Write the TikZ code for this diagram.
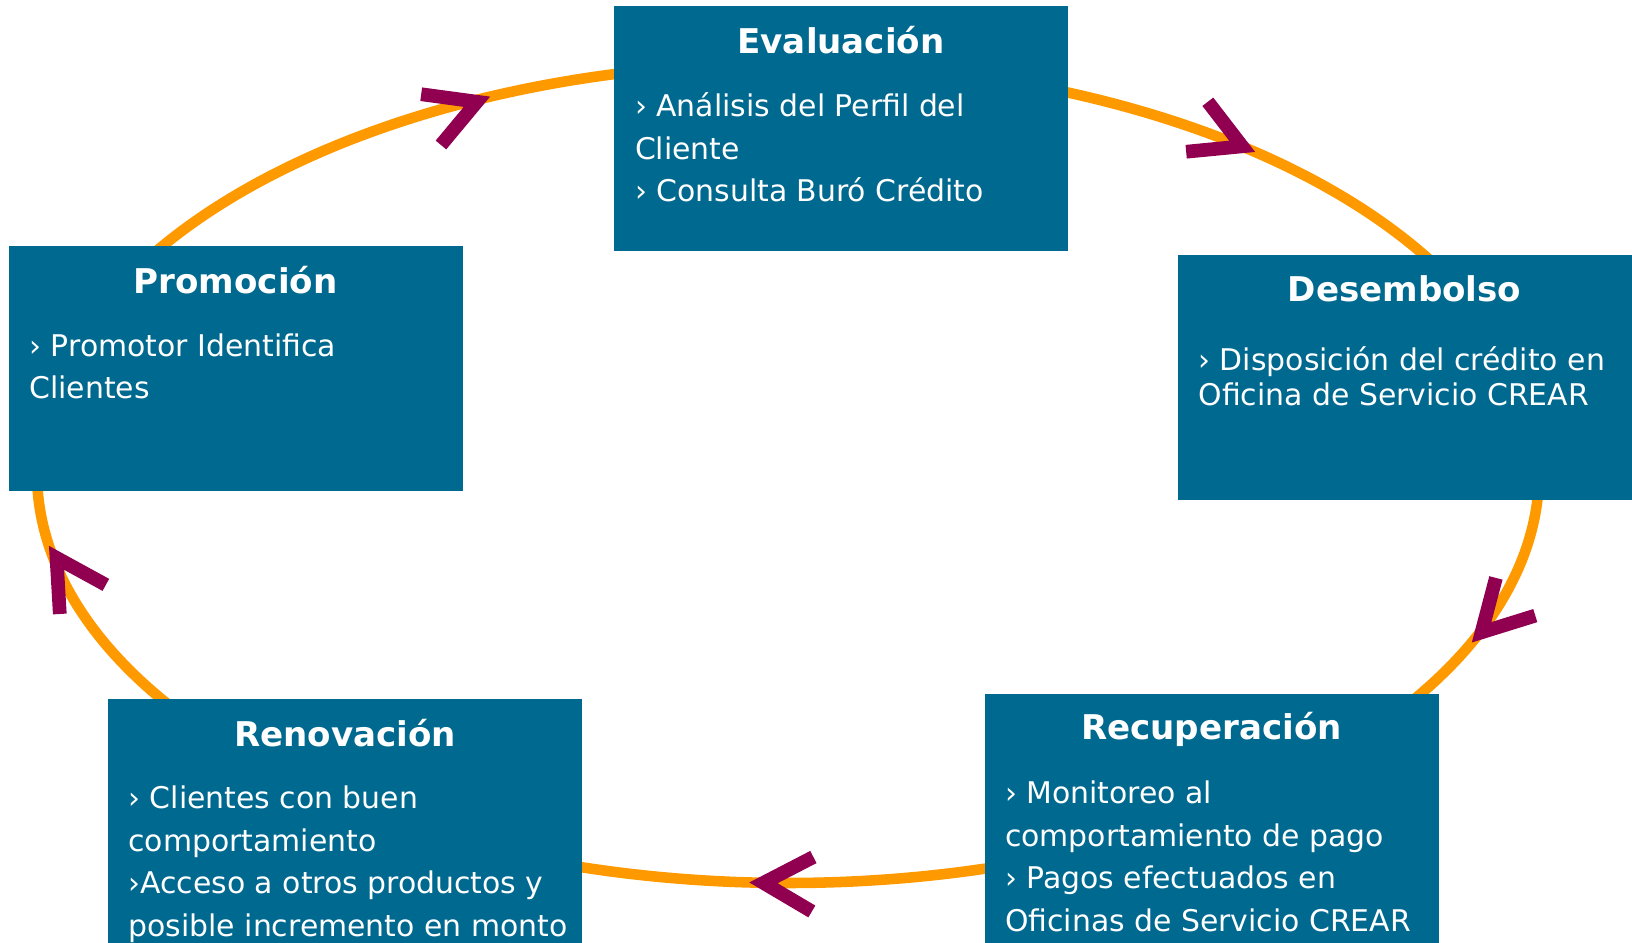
\documentclass[tikz,border=0pt]{standalone}
\usepackage{fontspec}
\setmainfont{DejaVu Sans}
\usetikzlibrary{arrows.meta,decorations.markings}
\definecolor{cajaazul}{RGB}{0,105,143}
\definecolor{naranja}{RGB}{255,153,0}
\definecolor{vino}{RGB}{145,0,80}

\begin{document}
\begin{tikzpicture}[
  caja/.style={fill=cajaazul, minimum width=9.08cm, minimum height=4.9cm, inner sep=0pt},
  titulo/.style={text=white, inner sep=0pt, font=\fontsize{19.4}{23}\selectfont\bfseries},
  texto/.style={text=white, align=left, anchor=north west, inner sep=0pt, execute at begin node=\strut, font=\fontsize{17}{24.2}\selectfont},
  anillo/.style={naranja, line width=6pt},
  flecha/.style 2 args={postaction={decorate}, decoration={markings, mark=at position #1 with {\pgftransformrotate{#2}\arrow{Straight Barb[length=28pt, width=31pt, line width=7.8pt, color=vino]}}}}
]
\useasboundingbox (0,0) rectangle (32.64,18.84);
\clip (0,0) rectangle (32.64,18.84);

% 楕円(サイクル)
\coordinate (ctr) at (15.76,9.38);
\path (ctr) ++(150:15.02 and 8.2) coordinate (a1);
\path (ctr) ++(72:15.02 and 8.2)  coordinate (a2);
\path (ctr) ++(0:15.02 and 8.2)   coordinate (a3);
\path (ctr) ++(-72:15.02 and 8.2) coordinate (a4);
\path (ctr) ++(216:15.02 and 8.2) coordinate (a5);

% 矢印
\draw[anillo, flecha={0.70}{8}]  (a1) arc[start angle=150, end angle=100, x radius=15.02, y radius=8.2];
\draw[anillo, flecha={0.51}{0}]  (a2) arc[start angle=72, end angle=28, x radius=15.02, y radius=8.2];
\draw[anillo, flecha={0.64}{-4}] (a3) arc[start angle=0, end angle=-36, x radius=15.02, y radius=8.2];
\draw[anillo, flecha={0.583}{0}] (a4) arc[start angle=-72, end angle=-108, x radius=15.02, y radius=8.2];
\draw[anillo, flecha={0.71}{14}] (a5) arc[start angle=216, end angle=178, x radius=15.02, y radius=8.2];

% ノード(座標で配置)
\node[caja] (evaluacion) at (16.82,16.27) {};
\node[caja] (promocion)  at (4.71,11.47)  {};
\node[caja] (desembolso) at (28.09,11.28) {};
\node[caja, minimum height=5.2cm] (recuperacion) at (24.23,2.36) {};
\node[caja, minimum height=5.2cm, minimum width=9.48cm] (renovacion) at (6.90,2.26) {};

% 見出し
\node[titulo] (tEval)  at ([yshift=-0.68cm]evaluacion.north)   {Evaluación};
\node[titulo] (tProm)  at ([yshift=-0.68cm]promocion.north)    {Promoción};
\node[titulo] (tDes)   at ([yshift=-0.68cm]desembolso.north)   {Desembolso};
\node[titulo] (tRec)   at ([yshift=-0.72cm]recuperacion.north) {Recuperación};
\node[titulo] (tRen)   at ([yshift=-0.68cm]renovacion.north)   {Renovación};

% 注記
\node[texto] (bEval) at ([xshift=0.42cm,yshift=-1.74cm]evaluacion.north west)
  {› Análisis del Perfil del\\Cliente\\› Consulta Buró Crédito};
\node[texto] (bProm) at ([xshift=0.42cm,yshift=-1.75cm]promocion.north west)
  {› Promotor Identifica\\Clientes};
\node[texto, font=\fontsize{17}{20}\selectfont] (bDes) at ([xshift=0.42cm,yshift=-1.82cm]desembolso.north west)
  {› Disposición del crédito en\\Oficina de Servicio CREAR};
\node[texto] (bRec) at ([xshift=0.41cm,yshift=-1.74cm]recuperacion.north west)
  {› Monitoreo al\\comportamiento de pago\\› Pagos efectuados en\\Oficinas de Servicio CREAR};
\node[texto] (bRen) at ([xshift=0.41cm,yshift=-1.74cm]renovacion.north west)
  {› Clientes con buen\\comportamiento\\›Acceso a otros productos y\\posible incremento en monto};
\end{tikzpicture}
\end{document}
